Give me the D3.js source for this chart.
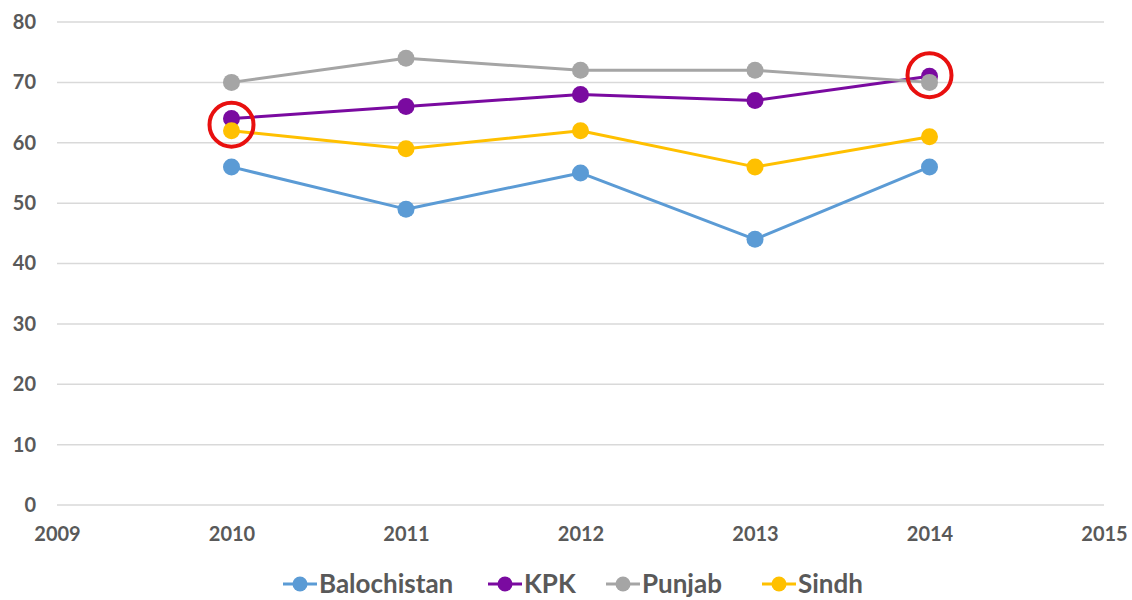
<!DOCTYPE html>
<html>
<head>
<meta charset="utf-8">
<script src="https://cdn.jsdelivr.net/npm/d3@7/dist/d3.min.js"></script>
<style>
  html, body { margin: 0; padding: 0; background: #fff; }
  svg { display: block; }
  text { font-family: Lato, "Open Sans", sans-serif; font-weight: 700; fill: #595959; }
</style>
</head>
<body>
<svg id="chart" width="1132" height="600"></svg>
<script>
const years = [2010, 2011, 2012, 2013, 2014];
const seriesNames = ["Balochistan", "KPK", "Punjab", "Sindh"];
const balochistan = [56, 49, 55, 44, 56];
const kpk = [64, 66, 68, 67, 71];
const punjab = [70, 74, 72, 72, 70];
const sindh = [62, 59, 62, 56, 61];
const colors = ["#5B9BD5", "#7A0AA0", "#A5A5A5", "#FFC000"];
const xTicks = [2009, 2010, 2011, 2012, 2013, 2014, 2015];
const yTicks = [0, 10, 20, 30, 40, 50, 60, 70, 80];
const highlights = [{ year: 2010, value: 63 }, { year: 2014, value: 71.2 }];

const seriesValues = [balochistan, kpk, punjab, sindh];
const series = seriesNames.map((name, i) => ({
  name, color: colors[i],
  points: years.map((y, j) => ({ year: y, value: seriesValues[i][j] }))
}));

const svg = d3.select("#chart");
const x = d3.scaleLinear().domain([2009, 2015]).range([57, 1104]);
const y = d3.scaleLinear().domain([0, 80]).range([505, 22]);

// gridlines
svg.append("g").selectAll("line").data(yTicks).join("line")
  .attr("x1", x(2009)).attr("x2", x(2015))
  .attr("y1", d => y(d)).attr("y2", d => y(d))
  .attr("stroke", "#d9d9d9").attr("stroke-width", 1.5);

// y axis labels
const yAxis = d3.axisLeft(y).tickValues(yTicks).tickSize(0).tickPadding(0);
svg.append("g").attr("transform", "translate(36,0)").call(yAxis)
  .call(g => g.select(".domain").remove())
  .selectAll("text").attr("font-size", 20).attr("fill", "#595959")
  .style("font-family", "Lato, sans-serif").style("font-weight", 700);

// x axis labels
const xAxis = d3.axisBottom(x).tickValues(xTicks).tickFormat(d3.format("d")).tickSize(0).tickPadding(0);
svg.append("g").attr("transform", "translate(0,527)").call(xAxis)
  .call(g => g.select(".domain").remove())
  .selectAll("text").attr("font-size", 20).attr("fill", "#595959")
  .style("font-family", "Lato, sans-serif").style("font-weight", 700);

// lines
const line = d3.line().x(d => x(d.year)).y(d => y(d.value));
const gS = svg.append("g");
series.forEach(s => {
  gS.append("path").datum(s.points).attr("d", line)
    .attr("fill", "none").attr("stroke", s.color).attr("stroke-width", 3)
    .attr("stroke-linejoin", "round");
});
series.forEach(s => {
  gS.append("g").selectAll("circle").data(s.points).join("circle")
    .attr("cx", d => x(d.year)).attr("cy", d => y(d.value)).attr("r", 8.5)
    .attr("fill", s.color);
});

// highlight circles
svg.append("g").selectAll("circle").data(highlights).join("circle")
  .attr("cx", d => x(d.year)).attr("cy", d => y(d.value)).attr("r", 22)
  .attr("fill", "none").attr("stroke", "#E8100F").attr("stroke-width", 4);

// legend
const legendX = [283, 488, 606, 762];
const lg = svg.append("g");
series.forEach((s, i) => {
  const g = lg.append("g").attr("transform", `translate(${legendX[i]},584)`);
  g.append("line").attr("x1", 0).attr("x2", 34).attr("y1", 0).attr("y2", 0)
    .attr("stroke", s.color).attr("stroke-width", 3);
  g.append("circle").attr("cx", 17).attr("cy", 0).attr("r", 7.5).attr("fill", s.color);
  g.append("text").attr("x", 36).attr("y", 0).attr("dy", "0.36em")
    .attr("font-size", 26).text(s.name);
});
</script>
</body>
</html>
